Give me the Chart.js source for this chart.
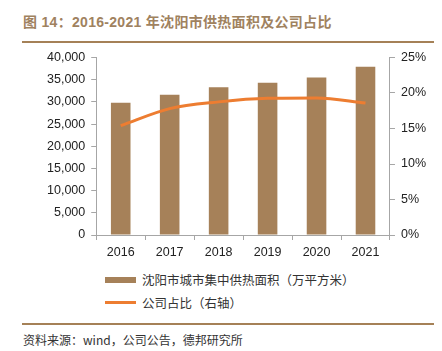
<!DOCTYPE html>
<html>
<head>
<meta charset="utf-8">
<script src="https://cdn.jsdelivr.net/npm/chart.js@4"></script>
<style>
  body { margin: 0; width: 442px; height: 351px; background: #fff; position: relative; overflow: hidden;
         font-family: "Liberation Sans", Arial, "Noto Sans CJK SC", sans-serif; }
  #title { position: absolute; left: 23px; top: 11px; font-size: 14px; font-weight: bold; color: #a0825f;
           font-family: "Liberation Sans", "Noto Sans CJK SC", sans-serif; white-space: nowrap; letter-spacing: 0.3px; }
  #titleLine { position: absolute; left: 22px; top: 41px; width: 412px; height: 2px; background: #a58157; }
  #wrap { position: absolute; left: 0; top: 44px; width: 442px; height: 221px; }
  #legend { position: absolute; left: 105px; top: 268px; font-size: 12.5px; color: #333;
            font-family: "Noto Sans CJK SC", sans-serif; }
  .item { display: flex; align-items: center; height: 23px; }
  .swatch { width: 31px; margin-right: 6px; }
  #srcLine { position: absolute; left: 22px; top: 323px; width: 412px; height: 2px; background: #a58157; }
  #source { position: absolute; left: 23px; top: 331px; font-size: 12px; color: #333;
            font-family: "Noto Sans CJK SC", sans-serif; white-space: nowrap; }
</style>
</head>
<body>
<div id="title">图 14：2016-2021 年沈阳市供热面积及公司占比</div>
<div id="titleLine"></div>
<div id="wrap"><canvas id="chart"></canvas></div>
<div id="legend"></div>
<div id="srcLine"></div>
<div id="source">资料来源：wind，公司公告，德邦研究所</div>
<script>
// Data
const years = ["2016", "2017", "2018", "2019", "2020", "2021"];
const heatingArea = [29800, 31600, 33300, 34300, 35500, 37900];
const companyShare = [15.4, 17.8, 18.75, 19.25, 19.3, 18.6];
const areaLabel = "沈阳市城市集中供热面积（万平方米）";
const shareLabel = "公司占比（右轴）";

const barColor = "#a68159";
const lineColor = "#ed7d31";
const axisColor = "#a6a6a6";
const tickFont = { family: "Liberation Sans", size: 12.5 };

const ctx = document.getElementById("chart").getContext("2d");
const chart = new Chart(ctx, {
  data: {
    labels: years,
    datasets: [
      {
        type: "line",
        label: shareLabel,
        data: companyShare,
        yAxisID: "y1",
        borderColor: lineColor,
        borderWidth: 3,
        pointRadius: 0,
        tension: 0.4,
        cubicInterpolationMode: "monotone",
        order: 0,
      },
      {
        type: "bar",
        label: areaLabel,
        data: heatingArea,
        yAxisID: "y",
        backgroundColor: barColor,
        categoryPercentage: 0.8,
        barPercentage: 0.5,
        order: 1,
      },
    ],
  },
  options: {
    responsive: true,
    maintainAspectRatio: false,
    animation: false,
    layout: { padding: { left: 41, right: 10, top: 0, bottom: 0 } },
    plugins: { legend: { display: false }, tooltip: { enabled: false } },
    scales: {
      x: {
        grid: { display: true, drawOnChartArea: false, offset: true, color: axisColor, tickLength: 5 },
        border: { color: axisColor },
        ticks: { color: "#222", font: tickFont, padding: 5 },
      },
      y: {
        position: "left",
        min: 0,
        max: 40000,
        grid: { drawOnChartArea: false, color: axisColor, tickLength: 5 },
        border: { color: axisColor },
        ticks: {
          stepSize: 5000,
          color: "#222",
          font: tickFont,
          padding: 6,
          callback: (v) => v.toLocaleString("en-US"),
        },
      },
      y1: {
        position: "right",
        min: 0,
        max: 25,
        grid: { drawOnChartArea: false, color: axisColor, tickLength: 5 },
        border: { color: axisColor },
        ticks: { stepSize: 5, color: "#222", font: tickFont, padding: 6, callback: (v) => v + "%" },
      },
    },
  },
});

// Legend built from the datasets
const legend = document.getElementById("legend");
[chart.data.datasets[1], chart.data.datasets[0]].forEach((ds) => {
  const isBar = ds.type === "bar";
  legend.innerHTML += `<div class="item"><span class="swatch" style="height:${isBar ? 6 : 3}px;background:${isBar ? ds.backgroundColor : ds.borderColor}"></span>${ds.label}</div>`;
});
</script>
</body>
</html>
